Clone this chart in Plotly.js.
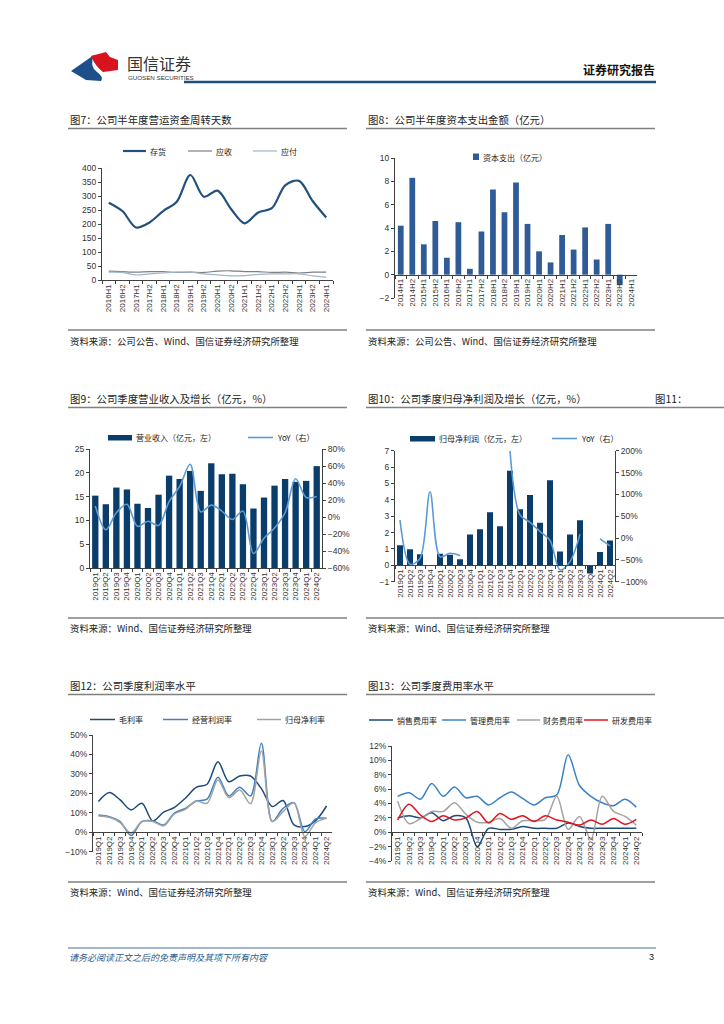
<!DOCTYPE html>
<html><head><meta charset="utf-8">
<script src="https://cdn.plot.ly/plotly-3.0.1.min.js"></script>
<style>html,body{margin:0;padding:0;background:#fff}#page{width:724px;height:1024px}</style>
</head><body><div id="page"></div>
<script>
// ---------------- DATA ----------------
const halfYearsA = ['2016H1','2016H2','2017H1','2017H2','2018H1','2018H2','2019H1','2019H2','2020H1','2020H2','2021H1','2021H2','2022H1','2022H2','2023H1','2023H2','2024H1'];
const inventoryDays  = [277,247,188,206,247,280,376,298,320,254,203,242,257,340,355,283,224];
const receivableDays = [32,30,28,30,30,27,28,27,32,33,30,30,27,28,25,28,28];
const payableDays    = [28,27,18,22,25,28,28,22,18,15,16,20,22,22,22,15,10];

const halfYearsB = ['2014H1','2014H2','2015H1','2015H2','2016H1','2016H2','2017H1','2017H2','2018H1','2018H2','2019H1','2019H2','2020H1','2020H2','2021H1','2021H2','2022H1','2022H2','2023H1','2023H2','2024H1'];
const capex = [4.2,8.3,2.6,4.6,1.45,4.5,0.5,3.7,7.3,5.35,7.9,4.35,2.0,1.05,3.4,2.15,4.05,1.3,4.35,-0.9,0];

const quarters = ['2019Q1','2019Q2','2019Q3','2019Q4','2020Q1','2020Q2','2020Q3','2020Q4','2021Q1','2021Q2','2021Q3','2021Q4','2022Q1','2022Q2','2022Q3','2022Q4','2023Q1','2023Q2','2023Q3','2023Q4','2024Q1','2024Q2'];
const revenue    = [15.2,13.4,16.9,16.5,13.5,12.6,15.4,19.4,18.7,20.4,16.2,22.0,19.7,19.8,17.6,12.5,14.8,17.3,18.7,18.1,18.3,21.4];
const revenueYoY = [13,-15,5,15,-11,-5,-10,18,36,62,6,14,7,-3,7,-43,-25,-13,5,45,23,24];
const netProfit    = [1.22,0.98,0.67,0,0.71,0.65,0.37,1.88,2.2,3.24,2.39,5.78,3.43,4.29,2.6,5.2,0.84,1.88,2.76,-0.5,0.82,1.51];
const netProfitYoY = [41,-60,-47,106,-43,-35,-40,null,null,null,null,200,53,36,15,-5,-73,-54,9,null,-2,-18];

const grossMargin = [15.8,20.4,16.6,11.5,14.9,5.8,10.3,12.8,17.5,23.1,24.7,36.3,26.0,28.9,28.9,22.4,13.2,16.3,3.8,2.9,6.0,13.5];
const opMargin    = [8.9,8.0,5.5,-1.7,5.5,5.8,3.8,9.8,12.3,16.1,17.0,28.3,18.7,23.1,18.7,45.7,5.5,12.3,15.2,0.3,6.8,7.2];
const netMargin   = [8.4,7.7,5.0,-0.5,5.5,5.5,3.3,9.4,11.8,16.1,14.9,26.9,17.8,21.7,14.6,41.8,5.5,10.6,15.2,-2.2,5.0,7.2];

const sellingRate = [2.0,2.3,2.0,2.7,1.6,2.3,2.0,-2.0,0.55,0.4,0.4,0.8,0.55,0.55,0.55,1.3,0.8,0.55,0.55,0.55,0.55,0.55];
const adminRate   = [5.0,5.5,4.6,6.8,5.0,6.3,4.8,5.0,3.8,4.8,5.6,4.7,3.8,4.8,5.2,10.8,6.5,5.0,4.1,3.7,4.6,3.5];
const financeRate = [4.3,1.2,1.9,2.9,2.9,4.1,2.5,1.4,1.4,1.9,0.55,1.6,1.6,1.8,5.0,0.4,2.2,-1.0,5.0,2.9,2.2,1.0];
const rdRate      = [1.7,3.9,2.4,1.5,2.3,1.7,2.0,2.9,1.3,2.6,1.8,2.3,1.5,2.3,1.7,1.4,1.0,1.7,1.1,1.9,1.1,1.8];

// ---------------- HELPERS ----------------
const W = 724, H = 1024;
const px = x => x / W, py = y => 1 - y / H;
const FONT = 'Liberation Sans, Noto Sans CJK SC, sans-serif';
const CJK = 'Noto Sans CJK SC, Liberation Sans, sans-serif';
const AX = '#404040';
const TF = {family: FONT, size: 8, color: '#333'};

function xCat(l, r, anchor, posY) {
  const a = {domain: [px(l), px(r)], type: 'category', tickangle: -90, ticks: 'outside', ticklen: 3,
    tickson: 'boundaries', tickcolor: AX, showline: true, linecolor: AX, linewidth: 1,
    showgrid: false, zeroline: false, tickfont: TF, fixedrange: true, automargin: false};
  if (posY !== undefined) { a.anchor = 'free'; a.position = py(posY); } else { a.anchor = anchor; }
  return a;
}
function yLin(top, bot, anchor, range, dtick, opts) {
  return Object.assign({domain: [py(bot), py(top)], anchor: anchor, range: range, dtick: dtick,
    ticks: 'outside', ticklen: 3, tickcolor: AX, showline: true, linecolor: AX, linewidth: 1,
    showgrid: false, zeroline: false, tickfont: {family: FONT, size: 8.5, color: '#333'},
    fixedrange: true, automargin: false}, opts || {});
}

const shapes = [];
const annotations = [];
function hline(x0, x1, y, color, w) {
  shapes.push({type: 'line', xref: 'paper', yref: 'paper', x0: px(x0), x1: px(x1), y0: py(y), y1: py(y),
    line: {color: color, width: w}});
}
function rect(x0, x1, y0, y1, color) {
  shapes.push({type: 'rect', xref: 'paper', yref: 'paper', x0: px(x0), x1: px(x1), y0: py(y1), y1: py(y0),
    fillcolor: color, line: {width: 0}});
}
function txt(x, y, s, size, opts) {
  annotations.push(Object.assign({xref: 'paper', yref: 'paper', x: px(x), y: py(y), text: s, showarrow: false,
    xanchor: 'left', yanchor: 'middle', font: {family: CJK, size: size, color: '#222'}}, opts || {}));
}
function pathPx(cmds) {
  return cmds.map(c => {
    const L = c[0]; const nums = [];
    for (let i = 1; i < c.length; i += 2) nums.push(px(c[i]).toFixed(5) + ',' + py(c[i + 1]).toFixed(5));
    return L + nums.join(' ');
  }).join(' ') + ' Z';
}

// ---------------- COLORS ----------------
const C_DARK = '#1c4a7c', C_MID = '#3b82c4', C_GRAY = '#a3a3a3', C_RED = '#e3141c';
const C_BAR8 = '#2f5c96', C_BAR = '#0b3d6b', C_YOY = '#5b9bd5';

// ---------------- TRACES ----------------
const traces = [
  // Fig 7
  {type: 'scatter', mode: 'lines', x: halfYearsA, y: inventoryDays, name: '存货', xaxis: 'x', yaxis: 'y',
   line: {color: '#24507e', width: 2.2, shape: 'spline', smoothing: 0.9}},
  {type: 'scatter', mode: 'lines', x: halfYearsA, y: receivableDays, name: '应收', xaxis: 'x', yaxis: 'y',
   line: {color: '#808080', width: 1.2, shape: 'spline', smoothing: 0.9}},
  {type: 'scatter', mode: 'lines', x: halfYearsA, y: payableDays, name: '应付', xaxis: 'x', yaxis: 'y',
   line: {color: '#9fb4cc', width: 1.2, shape: 'spline', smoothing: 0.9}},
  // Fig 8
  {type: 'bar', x: halfYearsB, y: capex, name: '资本支出（亿元）', xaxis: 'x2', yaxis: 'y2',
   marker: {color: C_BAR8}, width: 0.5},
  // Fig 9
  {type: 'bar', x: quarters, y: revenue, name: '营业收入（亿元，左）', xaxis: 'x3', yaxis: 'y3',
   marker: {color: C_BAR}, width: 0.6},
  {type: 'scatter', mode: 'lines', x: quarters, y: revenueYoY, name: 'YoY（右）', xaxis: 'x3', yaxis: 'y4',
   line: {color: C_YOY, width: 1.6, shape: 'spline', smoothing: 0.9}},
  // Fig 10
  {type: 'bar', x: quarters, y: netProfit, name: '归母净利润（亿元，左）', xaxis: 'x4', yaxis: 'y5',
   marker: {color: C_BAR}, width: 0.6},
  {type: 'scatter', mode: 'lines', x: quarters, y: netProfitYoY, name: 'YoY（右）', xaxis: 'x4', yaxis: 'y6',
   connectgaps: false, line: {color: C_YOY, width: 1.6, shape: 'spline', smoothing: 0.9}},
  // Fig 12
  {type: 'scatter', mode: 'lines', x: quarters, y: grossMargin, name: '毛利率', xaxis: 'x5', yaxis: 'y7',
   line: {color: C_DARK, width: 1.5, shape: 'spline', smoothing: 0.9}},
  {type: 'scatter', mode: 'lines', x: quarters, y: opMargin, name: '经营利润率', xaxis: 'x5', yaxis: 'y7',
   line: {color: C_MID, width: 1.5, shape: 'spline', smoothing: 0.9}},
  {type: 'scatter', mode: 'lines', x: quarters, y: netMargin, name: '归母净利率', xaxis: 'x5', yaxis: 'y7',
   line: {color: C_GRAY, width: 1.5, shape: 'spline', smoothing: 0.9}},
  // Fig 13
  {type: 'scatter', mode: 'lines', x: quarters, y: sellingRate, name: '销售费用率', xaxis: 'x6', yaxis: 'y8',
   line: {color: C_DARK, width: 1.5, shape: 'spline', smoothing: 0.9}},
  {type: 'scatter', mode: 'lines', x: quarters, y: adminRate, name: '管理费用率', xaxis: 'x6', yaxis: 'y8',
   line: {color: C_MID, width: 1.5, shape: 'spline', smoothing: 0.9}},
  {type: 'scatter', mode: 'lines', x: quarters, y: financeRate, name: '财务费用率', xaxis: 'x6', yaxis: 'y8',
   line: {color: C_GRAY, width: 1.5, shape: 'spline', smoothing: 0.9}},
  {type: 'scatter', mode: 'lines', x: quarters, y: rdRate, name: '研发费用率', xaxis: 'x6', yaxis: 'y8',
   line: {color: C_RED, width: 1.5, shape: 'spline', smoothing: 0.9}}
];

// ---------------- PAGE DECORATION ----------------
shapes.push({type: 'path', xref: 'paper', yref: 'paper', fillcolor: '#1d4f8a', line: {width: 0},
  path: pathPx([['M', 71, 71], ['L', 94, 55], ['Q', 89, 66, 97, 72], ['Q', 104, 77, 101, 81], ['L', 86, 80]])});
shapes.push({type: 'path', xref: 'paper', yref: 'paper', fillcolor: '#d7141d', line: {width: 0},
  path: pathPx([['M', 91, 56], ['L', 106, 52], ['L', 110, 57], ['L', 118, 60], ['L', 118, 70], ['L', 103, 72], ['Q', 95, 66, 91, 56]])});
txt(125, 63, '国信证券', 16, {font: {family: CJK, size: 16, color: '#333'}});
txt(126, 77.5, 'GUOSEN SECURITIES', 6.2, {font: {family: FONT, size: 6.2, color: '#333'}});
txt(657, 69, '<b>证券研究报告</b>', 12, {xanchor: 'right', font: {family: CJK, size: 12, color: '#111'}});
hline(184, 656, 82, '#1f4e79', 2.5);

const TL = '#808080';
const TS = 10.4;
txt(68, 119, '图7：公司半年度营运资金周转天数', TS);
txt(366, 119, '图8：公司半年度资本支出金额（亿元）', TS);
txt(68, 398, '图9：公司季度营业收入及增长（亿元，%）', TS);
txt(366, 398, '图10：公司季度归母净利润及增长（亿元，%）', TS);
txt(653, 398, '图11：', TS);
txt(68, 685, '图12：公司季度利润率水平', TS);
txt(366, 685, '图13：公司季度费用率水平', TS);
hline(68, 347, 128.5, TL, 1.5); hline(366, 655, 128.5, TL, 1.5);
hline(68, 347, 407.5, TL, 1.5); hline(366, 724, 407.5, TL, 1.5);
hline(68, 347, 694.5, TL, 1.5); hline(366, 655, 694.5, TL, 1.5);
hline(68, 347, 330, TL, 1.5); hline(366, 655, 330, TL, 1.5);
hline(68, 347, 618, TL, 1.5); hline(366, 724, 618, TL, 1.5);
hline(68, 347, 882, TL, 1.5); hline(366, 655, 882, TL, 1.5);
txt(68, 341, '资料来源：公司公告、Wind、国信证券经济研究所整理', 9.4);
txt(366, 341, '资料来源：公司公告、Wind、国信证券经济研究所整理', 9.4);
txt(68, 628, '资料来源：Wind、国信证券经济研究所整理', 9.4);
txt(366, 628, '资料来源：Wind、国信证券经济研究所整理', 9.4);
txt(68, 892, '资料来源：Wind、国信证券经济研究所整理', 9.4);
txt(366, 892, '资料来源：Wind、国信证券经济研究所整理', 9.4);

hline(68, 656, 948, '#4a6f96', 1);
txt(67, 957, '<i>请务必阅读正文之后的免责声明及其项下所有内容</i>', 9, {font: {family: CJK, size: 9, color: '#2a5a8c'}});
txt(656, 957, '3', 9, {xanchor: 'right', font: {family: FONT, size: 9, color: '#222'}});

const LF = 8;
hline(123, 146, 151, '#24507e', 2.2); txt(148, 151, '存货', LF);
hline(188, 212, 151, '#808080', 1.2); txt(214, 151, '应收', LF);
hline(253, 277, 151, '#9fb4cc', 1.2); txt(279, 151, '应付', LF);

rect(473, 479, 153.5, 160, C_BAR8); txt(481, 157, '资本支出（亿元）', LF);

rect(108, 132, 435, 440.5, C_BAR); txt(134, 437.5, '营业收入（亿元，左）', LF);
hline(248, 273, 437.5, C_YOY, 1.6); txt(275, 437.5, 'YoY（右）', LF);

rect(410, 435, 436, 441.5, C_BAR); txt(437, 438.5, '归母净利润（亿元，左）', LF);
hline(552, 577, 438.5, C_YOY, 1.6); txt(579, 438.5, 'YoY（右）', LF);

hline(90, 115, 719.5, C_DARK, 1.5); txt(117, 719.5, '毛利率', LF);
hline(163, 188, 719.5, C_MID, 1.5); txt(190, 719.5, '经营利润率', LF);
hline(257, 281, 719.5, C_GRAY, 1.5); txt(283, 719.5, '归母净利率', LF);

hline(369, 393, 720, C_DARK, 1.5); txt(395, 720, '销售费用率', LF);
hline(442, 466, 720, C_MID, 1.5); txt(468, 720, '管理费用率', LF);
hline(517, 540, 720, C_GRAY, 1.5); txt(541, 720, '财务费用率', LF);
hline(584, 608, 720, C_RED, 1.5); txt(610, 720, '研发费用率', LF);

// ---------------- LAYOUT ----------------
const layout = {
  width: W, height: H, margin: {l: 0, r: 0, t: 0, b: 0, pad: 0},
  paper_bgcolor: '#fff', plot_bgcolor: 'rgba(0,0,0,0)', showlegend: false,
  font: {family: FONT, size: 8, color: '#333'},
  xaxis:  Object.assign(xCat(102, 333, 'y'), {range: [-0.5, 16.5]}),
  yaxis:  yLin(168.3, 280, 'x', [0, 400], 50),
  xaxis2: Object.assign(xCat(395, 637, null, 274.6), {range: [-0.5, 20.5]}),
  yaxis2: yLin(158, 298, 'x2', [-2, 10], 2),
  xaxis3: Object.assign(xCat(90, 322, 'y3'), {range: [-0.5, 21.5]}),
  yaxis3: yLin(449, 568, 'x3', [0, 25], 5),
  yaxis4: yLin(449, 568, 'x3', [-60, 80], 20, {overlaying: 'y3', side: 'right', ticksuffix: '%'}),
  xaxis4: Object.assign(xCat(395, 615, null, 565.1), {range: [-0.5, 21.5]}),
  yaxis5: yLin(450.7, 581.7, 'x4', [-1, 7], 1),
  yaxis6: yLin(450.7, 581.7, 'x4', [-100, 200], 50, {overlaying: 'y5', side: 'right', ticksuffix: '%'}),
  xaxis5: Object.assign(xCat(93, 332, null, 832.3), {range: [-0.5, 21.5]}),
  yaxis7: yLin(735, 851.7, 'x5', [-10, 50], 10, {ticksuffix: '%'}),
  xaxis6: Object.assign(xCat(392, 642, null, 832.3), {range: [-0.5, 21.5]}),
  yaxis8: yLin(746, 861, 'x6', [-4, 12], 2, {ticksuffix: '%'}),
  shapes: shapes, annotations: annotations
};

Plotly.newPlot('page', traces, layout, {staticPlot: true, displayModeBar: false});
</script></body></html>
